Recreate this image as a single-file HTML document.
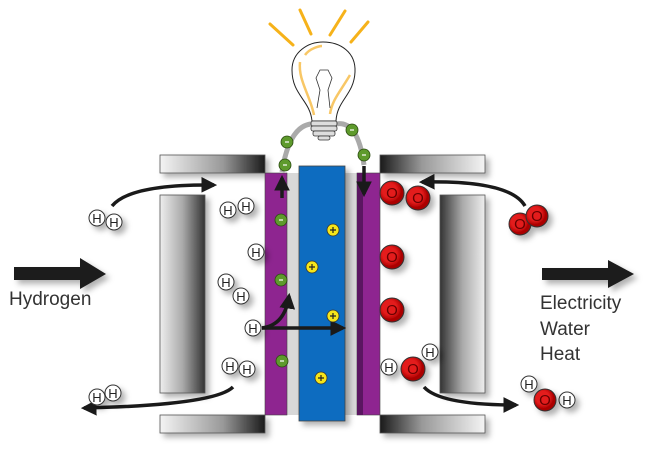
<!DOCTYPE html>
<html><head><style>
html,body{margin:0;padding:0;background:#fff;width:657px;height:456px;overflow:hidden}
text{font-family:"Liberation Sans",sans-serif}
</style></head><body>
<svg width="657" height="456" viewBox="0 0 657 456" xmlns="http://www.w3.org/2000/svg">
<defs>
<linearGradient id="pl" x1="0" x2="1"><stop offset="0" stop-color="#f4f4f4"/><stop offset="0.6" stop-color="#999"/><stop offset="1" stop-color="#1a1a1a"/></linearGradient>
<linearGradient id="pr" x1="1" x2="0"><stop offset="0" stop-color="#f4f4f4"/><stop offset="0.6" stop-color="#999"/><stop offset="1" stop-color="#1a1a1a"/></linearGradient>
<linearGradient id="col" x1="0" x2="1"><stop offset="0" stop-color="#eee"/><stop offset="0.5" stop-color="#aaa"/><stop offset="1" stop-color="#333"/></linearGradient>
<linearGradient id="colr" x1="1" x2="0"><stop offset="0" stop-color="#eee"/><stop offset="0.5" stop-color="#aaa"/><stop offset="1" stop-color="#333"/></linearGradient>
<radialGradient id="red" cx="0.4" cy="0.4"><stop offset="0.6" stop-color="#e31b1b"/><stop offset="1" stop-color="#a00"/></radialGradient>
<filter id="sh" x="-50%" y="-50%" width="200%" height="200%"><feDropShadow dx="4" dy="4" stdDeviation="3" flood-color="#000" flood-opacity="0.3"/></filter>
<marker id="ah" viewBox="0 0 10 10" refX="8" refY="5" markerWidth="4.5" markerHeight="4.5" orient="auto"><path d="M0,0L10,5L0,10z" fill="#1a1a1a"/></marker>
</defs>
<!-- plates -->
<g filter="url(#sh)">
<rect x="160" y="155" width="105" height="18" fill="url(#pl)" stroke="#555" stroke-width="0.8"/>
<rect x="380" y="155" width="105" height="18" fill="url(#pr)" stroke="#555" stroke-width="0.8"/>
<rect x="160" y="415" width="105" height="18" fill="url(#pl)" stroke="#555" stroke-width="0.8"/>
<rect x="380" y="415" width="105" height="18" fill="url(#pr)" stroke="#555" stroke-width="0.8"/>
<rect x="160" y="195" width="45" height="198" fill="url(#col)" stroke="#555" stroke-width="0.8"/>
<rect x="440" y="195" width="45" height="198" fill="url(#colr)" stroke="#555" stroke-width="0.8"/>
</g>
<!-- membranes -->
<rect x="287" y="173" width="13" height="242" fill="#d8d8d8"/>
<rect x="345" y="173" width="12" height="242" fill="#d8d8d8"/>
<rect x="265" y="173" width="22" height="242" fill="#8e2590" stroke="#444" stroke-width="0.6"/>
<rect x="357" y="173" width="23" height="242" fill="#8e2590" stroke="#444" stroke-width="0.6"/>
<rect x="357" y="173" width="6" height="242" fill="#5a1660"/>
<rect x="299" y="166" width="46" height="255" fill="#0a6cc0" stroke="#444" stroke-width="0.8" filter="url(#sh)"/>
<!-- wire -->
<path d="M282 172 Q290 120 318 124 M336 124 Q358 120 364 165" fill="none" stroke="#aaa" stroke-width="5"/>
<!-- bulb -->
<g stroke="#f6b21a" stroke-width="3" stroke-linecap="round">
<line x1="270" y1="24" x2="293" y2="45"/><line x1="300" y1="10" x2="311" y2="34"/><line x1="345" y1="11" x2="330" y2="35"/><line x1="368" y1="22" x2="351" y2="42"/>
</g>
<path d="M312 121 C310 100 292 95 292 70 C292 52 308 42 323 42 C340 42 356 52 355 72 C354 95 337 100 336 121 Z" fill="#fff" stroke="#222" stroke-width="1"/>
<path d="M300 62 C298 80 310 95 314 115 M350 75 C340 92 332 100 330 114 M305 55 C310 48 320 46 322 46" fill="none" stroke="#f8c766" stroke-width="2.5"/>
<path d="M317 108 L320 90 L316 78 L320 70 L328 70 L332 78 L328 90 L330 108" fill="none" stroke="#333" stroke-width="0.8"/>
<g fill="#ddd" stroke="#333" stroke-width="0.8"><rect x="311" y="121" width="26" height="5" rx="2"/><rect x="311" y="126" width="26" height="5" rx="2"/><rect x="313" y="131" width="22" height="5" rx="2"/><rect x="318" y="136" width="12" height="4" rx="2"/></g>
<!-- arrows -->
<g fill="none" stroke="#1a1a1a" stroke-width="3.5" marker-end="url(#ah)">
<path d="M112 206 Q130 184 214 185"/>
<path d="M525 206 Q510 180 422 182"/>
<path d="M233 387 Q215 405 84 408"/>
<path d="M424 387 Q440 405 516 405"/>
<path d="M282 198 L282 178"/>
<path d="M364 166 L364 194"/>
<path d="M262 328 L343 328"/>
<path d="M262 328 Q285 325 289 296"/>
</g>
<g filter="url(#sh)">
<path d="M14 267 H80 V258 L106 274 L80 289 V280 H14 Z" fill="#1a1a1a"/>
<path d="M542 268 H608 V260 L634 274 L608 288 V280 H542 Z" fill="#1a1a1a"/>
</g>
<text x="9" y="305" font-size="19" fill="#333">Hydrogen</text>
<text x="540" y="309" font-size="19" fill="#333">Electricity</text>
<text x="540" y="335" font-size="19" fill="#333">Water</text>
<text x="540" y="360" font-size="19" fill="#333">Heat</text>
<!-- H atoms -->
<g font-size="13" text-anchor="middle" fill="#222">
<g stroke="#333" stroke-width="1" fill="#fff" filter="url(#sh)">
<circle cx="97" cy="218" r="8"/><circle cx="114" cy="222" r="8"/>
<circle cx="97" cy="397" r="8"/><circle cx="113" cy="393" r="8"/>
<circle cx="228" cy="210" r="8"/><circle cx="246" cy="206" r="8"/>
<circle cx="256" cy="252" r="8"/>
<circle cx="226" cy="282" r="8"/><circle cx="241" cy="296" r="8"/>
<circle cx="253" cy="328" r="8"/>
<circle cx="230" cy="366" r="8"/><circle cx="247" cy="369" r="8"/>
<circle cx="389" cy="367" r="8"/><circle cx="430" cy="352" r="8"/>
<circle cx="529" cy="384" r="8"/><circle cx="567" cy="400" r="8"/>
</g>
<text x="97" y="223">H</text><text x="114" y="227">H</text>
<text x="97" y="402">H</text><text x="113" y="398">H</text>
<text x="228" y="215">H</text><text x="246" y="211">H</text>
<text x="256" y="257">H</text>
<text x="226" y="287">H</text><text x="241" y="301">H</text>
<text x="253" y="333">H</text>
<text x="230" y="371">H</text><text x="247" y="374">H</text>
<text x="389" y="372">H</text><text x="430" y="357">H</text>
<text x="529" y="389">H</text><text x="567" y="405">H</text>
</g>
<!-- O atoms -->
<g stroke="#333" stroke-width="1" fill="url(#red)" filter="url(#sh)">
<circle cx="392" cy="193" r="12"/><circle cx="418" cy="198" r="12"/>
<circle cx="392" cy="257" r="12"/><circle cx="392" cy="310" r="12"/>
<circle cx="413" cy="369" r="12"/>
<circle cx="520" cy="224" r="11"/><circle cx="537" cy="216" r="11"/>
<circle cx="545" cy="400" r="11"/>
</g>
<g font-size="15" text-anchor="middle" fill="#600">
<text x="392" y="198">O</text><text x="418" y="203">O</text><text x="392" y="262">O</text><text x="392" y="315">O</text><text x="413" y="374">O</text>
<text x="520" y="229">O</text><text x="537" y="221">O</text><text x="545" y="405">O</text>
</g>
<!-- electrons -->
<g fill="#5e9a2c" stroke="#2a4a10" stroke-width="0.8">
<circle cx="281" cy="220" r="6"/><circle cx="281" cy="280" r="6"/><circle cx="282" cy="361" r="6"/>
<circle cx="285" cy="165" r="6"/><circle cx="287" cy="142" r="6"/><circle cx="364" cy="155" r="6"/><circle cx="352" cy="130" r="6"/>
</g>
<g stroke="#fff" stroke-width="1.2">
<line x1="279" y1="220" x2="283" y2="220"/><line x1="279" y1="280" x2="283" y2="280"/><line x1="280" y1="361" x2="284" y2="361"/>
<line x1="283" y1="165" x2="287" y2="165"/><line x1="285" y1="142" x2="289" y2="142"/><line x1="362" y1="155" x2="366" y2="155"/><line x1="350" y1="130" x2="354" y2="130"/>
</g>
<!-- protons -->
<g fill="#f5e51a" stroke="#333" stroke-width="0.8">
<circle cx="333" cy="230" r="6"/><circle cx="312" cy="267" r="6"/><circle cx="333" cy="316" r="6"/><circle cx="321" cy="378" r="6"/>
</g>
<g stroke="#222" stroke-width="1.2">
<path d="M330 230h6M333 227v6"/><path d="M309 267h6M312 264v6"/><path d="M330 316h6M333 313v6"/><path d="M318 378h6M321 375v6"/>
</g>
</svg>
</body></html>
